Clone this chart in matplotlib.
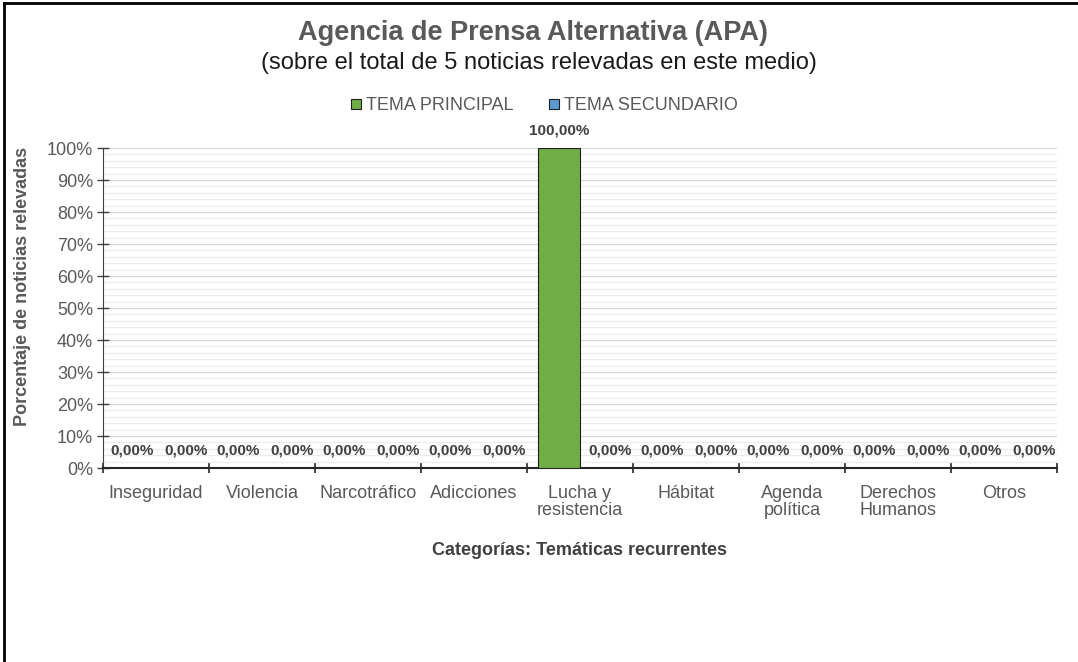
import numpy as np
import matplotlib
matplotlib.use('Agg')
import matplotlib.pyplot as plt
from matplotlib.lines import Line2D
from matplotlib.patches import Patch
from matplotlib.ticker import MultipleLocator, FuncFormatter

plt.rcParams['font.family'] = ['Liberation Sans', 'DejaVu Sans']

# data
categorias = ['Inseguridad', 'Violencia', 'Narcotráfico', 'Adicciones', 'Lucha y\nresistencia',
              'Hábitat', 'Agenda\npolítica', 'Derechos\nHumanos', 'Otros']
tema_principal = [0, 0, 0, 0, 100, 0, 0, 0, 0]
tema_secundario = [0, 0, 0, 0, 0, 0, 0, 0, 0]

green = '#70AD47'
blue = '#5B9BD5'
gray = '#595959'

fig = plt.figure(figsize=(10.78, 6.62), dpi=100)
ax = fig.add_axes([0.0955, 0.293, 0.885, 0.4834])

x = np.arange(len(categorias))
w = 0.4
b1 = ax.bar(x - w / 2, tema_principal, w, color=green, edgecolor='#1f1f1f', linewidth=0.8,
            label='TEMA PRINCIPAL', zorder=3)
b2 = ax.bar(x + w / 2, tema_secundario, w, color=blue, edgecolor='#1f1f1f', linewidth=0.8,
            label='TEMA SECUNDARIO', zorder=3)

# zero labels sit a bit apart like in the original
for bars, vals, dx in [(b1, tema_principal, -2), (b2, tema_secundario, 6.5)]:
    for r, v in zip(bars, vals):
        ox = dx if v == 0 else 0
        ax.annotate(f'{v:.2f}%'.replace('.', ','), (r.get_x() + r.get_width() / 2, r.get_height()),
                    xytext=(ox, 12.5), textcoords='offset points', ha='center', va='center',
                    fontsize=11, fontweight='bold', color='#404040', zorder=4)

ax.set_xlim(-0.5, len(categorias) - 0.5)
ax.set_ylim(0, 100)
ax.yaxis.set_major_locator(MultipleLocator(10))
ax.yaxis.set_minor_locator(MultipleLocator(2))
ax.yaxis.set_major_formatter(FuncFormatter(lambda v, p: f'{v:.0f}%'))
ax.grid(which='major', axis='y', color='#d9d9d9', linewidth=0.9, zorder=0)
ax.grid(which='minor', axis='y', color='#ececec', linewidth=0.9, zorder=0)
ax.tick_params(axis='y', which='minor', length=0)
ax.tick_params(axis='y', which='major', direction='inout', length=8, width=1, colors='#404040',
               labelcolor=gray, labelsize=13, pad=3)

ax.set_xticks(x)
ax.set_xticklabels(categorias, fontsize=13, color=gray, linespacing=1.0)
ax.set_xticks(np.arange(len(categorias) + 1) - 0.5, minor=True)
ax.tick_params(axis='x', which='major', length=0, pad=12)
ax.tick_params(axis='x', which='minor', direction='inout', length=7, width=1.2, color='#262626')

for s in ['top', 'right']:
    ax.spines[s].set_visible(False)
ax.spines['left'].set_color('#404040')
ax.spines['bottom'].set_color('#262626')
ax.spines['bottom'].set_linewidth(1.5)

ax.set_ylabel('Porcentaje de noticias relevadas', fontsize=13, fontweight='bold', color=gray)
ax.yaxis.set_label_coords(-0.075, 0.569)
ax.set_xlabel('Categorías: Temáticas recurrentes', fontsize=13, fontweight='bold', color='#404040', labelpad=17)

fig.text(0.494, 0.950, 'Agencia de Prensa Alternativa (APA)', ha='center', va='center',
         fontsize=19.5, fontweight='bold', color=gray)
fig.text(0.500, 0.905, '(sobre el total de 5 noticias relevadas en este medio)', ha='center', va='center',
         fontsize=17, color='#1a1a1a')

handles = [Patch(facecolor=green, edgecolor='#1f1f1f', linewidth=0.8),
           Patch(facecolor=blue, edgecolor='#1f1f1f', linewidth=0.8)]
fig.legend(handles, ['TEMA PRINCIPAL', 'TEMA SECUNDARIO'], loc='center', bbox_to_anchor=(0.505, 0.840),
           ncol=2, frameon=False, fontsize=13, labelcolor=gray, handlelength=0.55, handleheight=0.55,
           handletextpad=0.25, columnspacing=2.0)

# chart border
fig.add_artist(Line2D([0.004, 0.004], [0, 0.996], transform=fig.transFigure, color='black', linewidth=2))
fig.add_artist(Line2D([0.004, 1.0], [0.996, 0.996], transform=fig.transFigure, color='black', linewidth=2))

fig.savefig('out.png', dpi=100)
